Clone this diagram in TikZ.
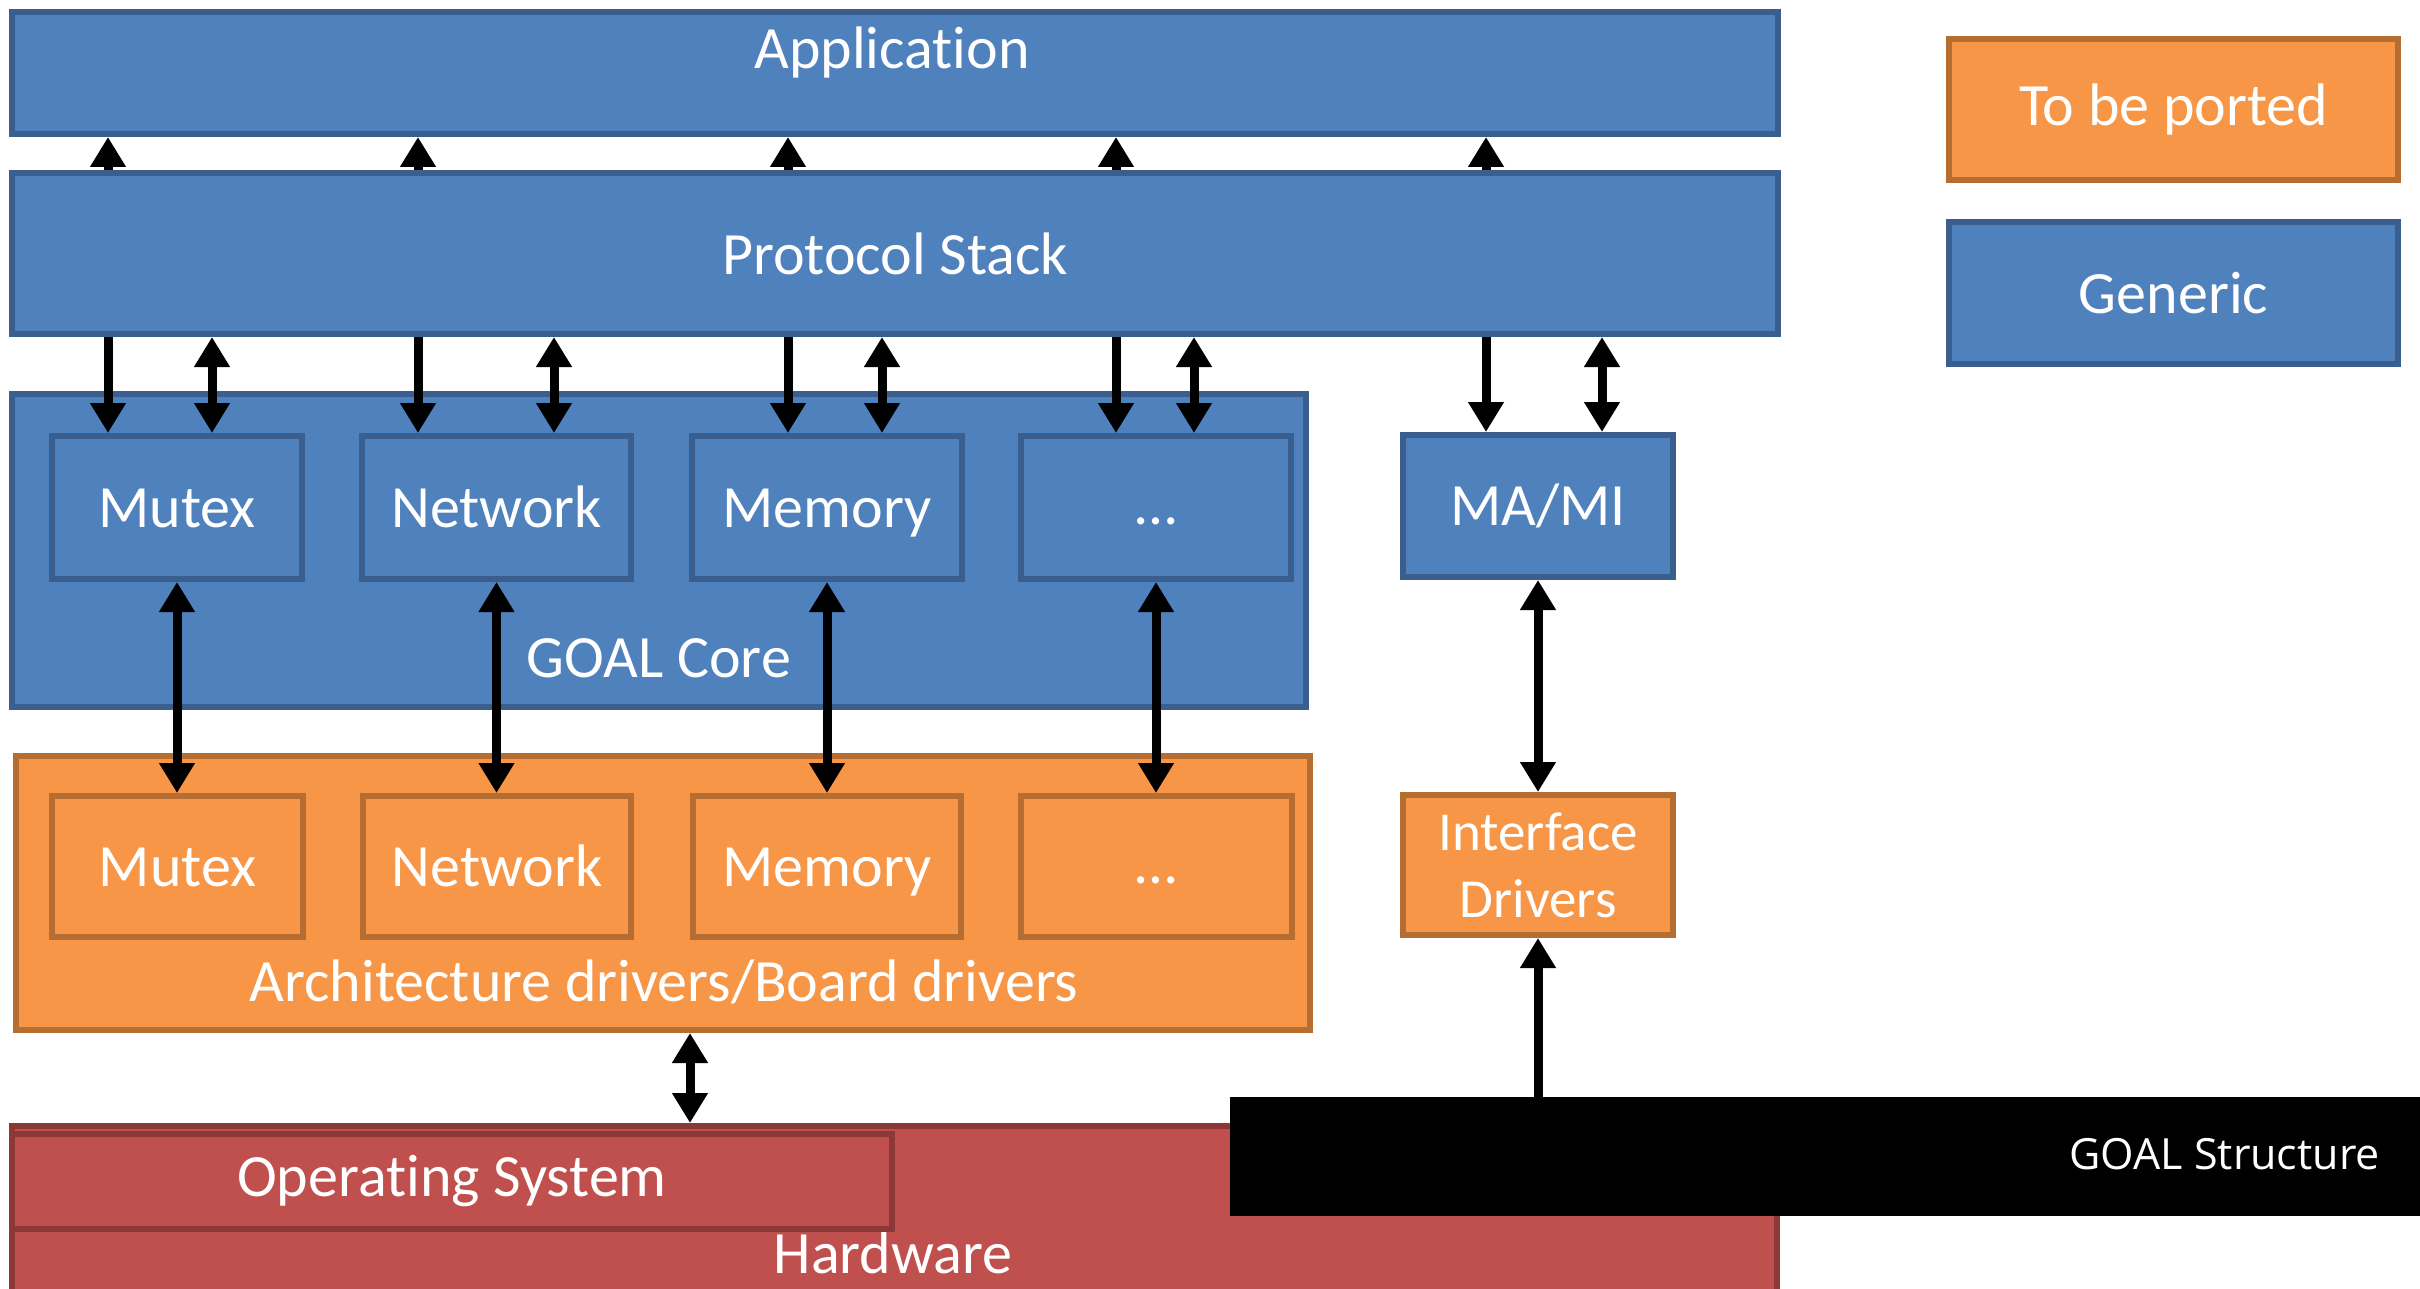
\documentclass[tikz,border=0pt]{standalone}
\usepackage{fontspec}
\setmainfont{Carlito}[Ligatures=NoCommon]
\newfontfamily\osfont{Open Sans}
\usetikzlibrary{arrows.meta}
\definecolor{bfill}{HTML}{4F81BD}
\definecolor{bline}{HTML}{3A5F8E}
\definecolor{ofill}{HTML}{F79646}
\definecolor{oline}{HTML}{B66D31}
\definecolor{rfill}{HTML}{C0504D}
\definecolor{rline}{HTML}{8C3836}
\begin{document}
\begin{tikzpicture}[x=1pt,y=-1pt,
  box/.style={draw, line width=6pt, inner sep=0pt, text=white, font=\fontsize{60}{72}\selectfont},
  bluebox/.style={box, fill=bfill, draw=bline},
  orangebox/.style={box, fill=ofill, draw=oline},
  redbox/.style={box, fill=rfill, draw=rline},
  lbl/.style={text=white, inner sep=0pt, font=\fontsize{60}{72}\selectfont},
  modbox/.style={text height=39pt, text depth=0pt},
  dotsbox/.style={text height=33pt, text depth=0pt},
  arr/.style={line width=9pt, -{Triangle[length=30pt,width=34pt]}},
  darr/.style={line width=9pt, {Triangle[length=30pt,width=34pt]}-{Triangle[length=30pt,width=34pt]}}
]
\useasboundingbox (0,0) rectangle (2420,1289);
\clip (0,0) rectangle (2420,1289);
\fill[white] (0,0) rectangle (2420,1289);

% main boxes
\node[bluebox, minimum width=1766, minimum height=122] (app) at (895,73) {};
\node[lbl, anchor=base] (applbl) at (892,69) {Application};
\node[bluebox, minimum width=1766, minimum height=161] (stack) at (895,253.5) {Protocol Stack};

\node[bluebox, minimum width=1294, minimum height=313] (core) at (659,550.5) {};
\node[lbl, anchor=base] (corelbl) at (659,677) {GOAL Core};
\node[bluebox, modbox, minimum width=250, minimum height=143] (cmutex) at (177,507.5) {Mutex};
\node[bluebox, modbox, minimum width=269, minimum height=143] (cnet) at (496.5,507.5) {Network};
\node[bluebox, modbox, minimum width=270, minimum height=143] (cmem) at (827,507.5) {Memory};
\node[bluebox, dotsbox, minimum width=270, minimum height=143] (cdots) at (1156,507.5) {\ldots};
\node[bluebox, minimum width=270, minimum height=142] (mami) at (1538,506) {MA/MI};

\node[orangebox, minimum width=1294, minimum height=274] (arch) at (663,893) {};
\node[lbl, anchor=base] (archlbl) at (664,1001) {Architecture drivers/Board drivers};
\node[orangebox, modbox, minimum width=251, minimum height=141] (amutex) at (177.5,866.5) {Mutex};
\node[orangebox, modbox, minimum width=268, minimum height=141] (anet) at (497,866.5) {Network};
\node[orangebox, modbox, minimum width=268, minimum height=141] (amem) at (827,866.5) {Memory};
\node[orangebox, dotsbox, minimum width=271, minimum height=141] (adots) at (1156.5,866.5) {\ldots};
\node[orangebox, minimum width=270, minimum height=140, align=center,
      font=\fontsize{55}{67}\selectfont] (ifd) at (1538,865) {Interface\\Drivers};

\node[redbox, minimum width=1765, minimum height=271] (hw) at (894.5,1261.5) {};
\node[lbl, anchor=base] (hwlbl) at (893,1273) {Hardware};
\node[redbox, minimum width=880, minimum height=95] (os) at (452,1181.5) {Operating System};

% legend
\node[orangebox, minimum width=449, minimum height=141] (tbp) at (2173.5,109.5) {To be ported};
\node[bluebox, minimum width=449, minimum height=142] (gen) at (2173.5,293) {Generic};

% x positions of the connectors
\foreach \n/\x in {u1/108,u2/418,u3/788,u4/1116,u5/1486,
                    d1/212,d2/554,d3/882,d4/1194,d5/1602,ao/690}
  \coordinate (\n) at (\x,0);

% Protocol stack -> Application
\foreach \n in {u1,u2,u3,u4,u5}
  \draw[arr] (\n |- stack.north) -- (\n |- app.south);

% Protocol stack -> modules
\draw[arr] (u1 |- stack.south) -- (u1 |- cmutex.north);
\draw[arr] (u2 |- stack.south) -- (u2 |- cnet.north);
\draw[arr] (u3 |- stack.south) -- (u3 |- cmem.north);
\draw[arr] (u4 |- stack.south) -- (u4 |- cdots.north);
\draw[arr] (u5 |- stack.south) -- (u5 |- mami.north);
\draw[darr] (d1 |- stack.south) -- (d1 |- cmutex.north);
\draw[darr] (d2 |- stack.south) -- (d2 |- cnet.north);
\draw[darr] (d3 |- stack.south) -- (d3 |- cmem.north);
\draw[darr] (d4 |- stack.south) -- (d4 |- cdots.north);
\draw[darr] (d5 |- stack.south) -- (d5 |- mami.north);

% core modules <-> architecture drivers
\draw[darr] (cmutex.south) -- (cmutex.south |- amutex.north);
\draw[darr] (cnet.south) -- (cnet.south |- anet.north);
\draw[darr] (cmem.south) -- (cmem.south |- amem.north);
\draw[darr] (cdots.south) -- (cdots.south |- adots.north);
\draw[darr] (mami.south) -- (mami.south |- ifd.north);

% architecture drivers <-> OS / hardware
\draw[darr] (ao |- arch.south) -- (ao |- hw.north);
\draw[arr] (ifd.south |- hw.north) -- (ifd.south);

% caption bar
\fill[black] (1230,1097) rectangle (2430,1216);
\node[text=white, inner sep=0pt, anchor=east, font=\osfont\fontsize{43}{52}\selectfont] (cap) at (2380,1154) {GOAL Structure};
\end{tikzpicture}
\end{document}
